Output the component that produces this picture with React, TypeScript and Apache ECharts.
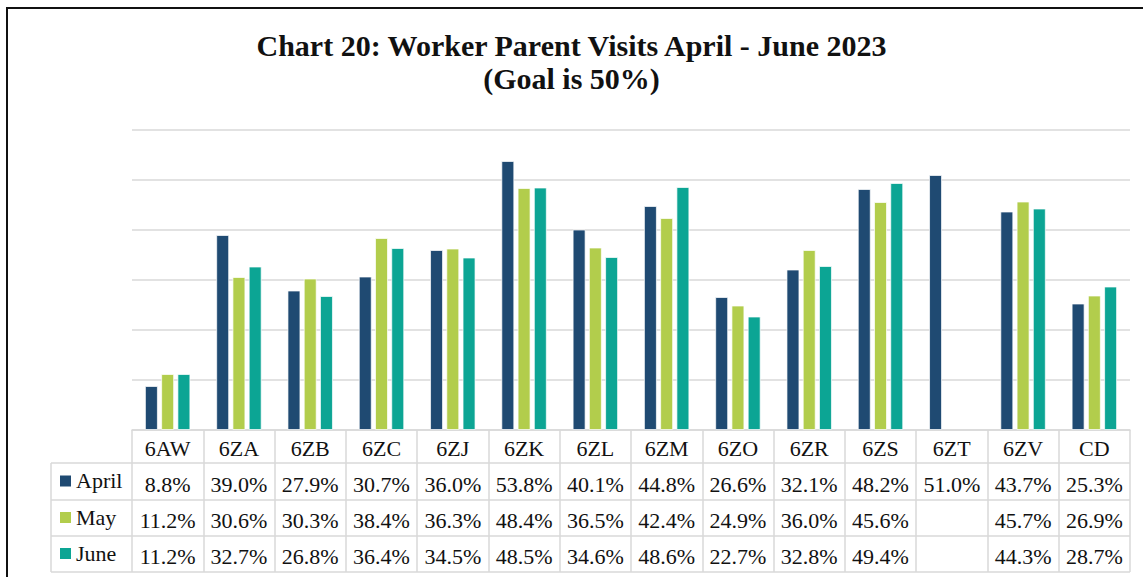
import React, { useEffect, useRef } from "react";
import * as echarts from "echarts";

const categories = ["6AW", "6ZA", "6ZB", "6ZC", "6ZJ", "6ZK", "6ZL", "6ZM", "6ZO", "6ZR", "6ZS", "6ZT", "6ZV", "CD"];
const months = ["April", "May", "June"];
const april = [8.8, 39.0, 27.9, 30.7, 36.0, 53.8, 40.1, 44.8, 26.6, 32.1, 48.2, 51.0, 43.7, 25.3];
const may = [11.2, 30.6, 30.3, 38.4, 36.3, 48.4, 36.5, 42.4, 24.9, 36.0, 45.6, null, 45.7, 26.9];
const june = [11.2, 32.7, 26.8, 36.4, 34.5, 48.5, 34.6, 48.6, 22.7, 32.8, 49.4, null, 44.3, 28.7];
const colors = ["#1F4A72", "#B2CD4C", "#0CA594"];
const titleLines = ["Chart 20: Worker Parent Visits April - June 2023", "(Goal is 50%)"];

const seriesData = [april, may, june];

const W = 1143;
const H = 577;
const GRID_LEFT = 132;
const GRID_RIGHT = 1130;
const GRID_TOP = 130;
const BASE = 430;
const ROW_Y = [463, 500, 536, 572];
const TABLE_LEFT = 51;
const FONT = "Liberation Serif";
const LINE = "#d9d9d9";

const fmt = (v: number | null) => (v == null ? "" : v.toFixed(1) + "%");

export default function App() {
  const ref = useRef<HTMLDivElement>(null);
  useEffect(() => {
    if (!ref.current) return;
    const chart = echarts.init(ref.current, null, { renderer: "svg" });

    const graphics: any[] = [];
    graphics.push({
      type: "rect",
      shape: { x: 7, y: 8, width: W + 20, height: H + 20 },
      style: { fill: "none", stroke: "#111", lineWidth: 2 },
      silent: true,
    });
    ROW_Y.forEach((y) => {
      graphics.push({
        type: "line",
        shape: { x1: TABLE_LEFT, y1: y, x2: GRID_RIGHT, y2: y },
        style: { stroke: LINE, lineWidth: 1.5 },
        silent: true,
      });
    });
    graphics.push({
      type: "line",
      shape: { x1: TABLE_LEFT, y1: ROW_Y[0], x2: TABLE_LEFT, y2: ROW_Y[3] },
      style: { stroke: LINE, lineWidth: 1.5 },
      silent: true,
    });
    months.forEach((m, i) => {
      const cy = (ROW_Y[i] + ROW_Y[i + 1]) / 2;
      graphics.push({
        type: "rect",
        shape: { x: 60, y: cy - 6, width: 11, height: 11 },
        style: { fill: colors[i] },
        silent: true,
      });
      graphics.push({
        type: "text",
        x: 76,
        y: cy - 12,
        style: {
          text: m,
          fontFamily: FONT,
          fontSize: 22,
          fill: "#111",
        },
        silent: true,
      });
    });

    chart.setOption({
      animation: false,
      backgroundColor: "#fff",
      textStyle: { fontFamily: FONT },
      title: {
        text: titleLines.join("\n"),
        left: "center",
        top: 24,
        textStyle: {
          fontFamily: FONT,
          fontWeight: "bold",
          fontSize: 30,
          lineHeight: 33,
          color: "#111",
        },
      },
      grid: {
        left: GRID_LEFT,
        right: W - GRID_RIGHT,
        top: GRID_TOP,
        bottom: H - BASE,
      },
      xAxis: {
        type: "category",
        data: categories,
        axisLine: { show: true, lineStyle: { color: LINE, width: 1.5 } },
        axisTick: {
          show: true,
          interval: 0,
          length: ROW_Y[3] - BASE,
          lineStyle: { color: LINE, width: 1.5 },
        },
        axisLabel: {
          interval: 0,
          margin: 0,
          fontFamily: FONT,
          fontSize: 22,
          lineHeight: 36,
          color: "#111",
          formatter: (val: string, idx: number) =>
            [val, fmt(april[idx]), fmt(may[idx]), fmt(june[idx])]
              .map((s) => (s ? `{t|${s}}` : "{t| }"))
              .join("\n"),
          rich: {
            t: { fontFamily: FONT, fontSize: 22, lineHeight: 36, color: "#111" },
          },
        },
      },
      yAxis: {
        type: "value",
        min: 0,
        max: 60,
        interval: 10,
        axisLabel: { show: false },
        axisLine: { show: false },
        axisTick: { show: false },
        splitLine: { lineStyle: { color: LINE, width: 1.5 } },
      },
      series: months.map((m, i) => ({
        name: m,
        type: "bar",
        data: seriesData[i],
        barWidth: 13,
        barGap: "25%",
        itemStyle: {
          color: colors[i],
          borderColor: "rgba(255,255,255,0.7)",
          borderWidth: 1,
        },
      })),
      graphic: graphics,
    });
    return () => chart.dispose();
  }, []);
  return (
    <div
      ref={ref}
      style={{ position: "absolute", left: 0, top: 0, width: W, height: H }}
    />
  );
}
